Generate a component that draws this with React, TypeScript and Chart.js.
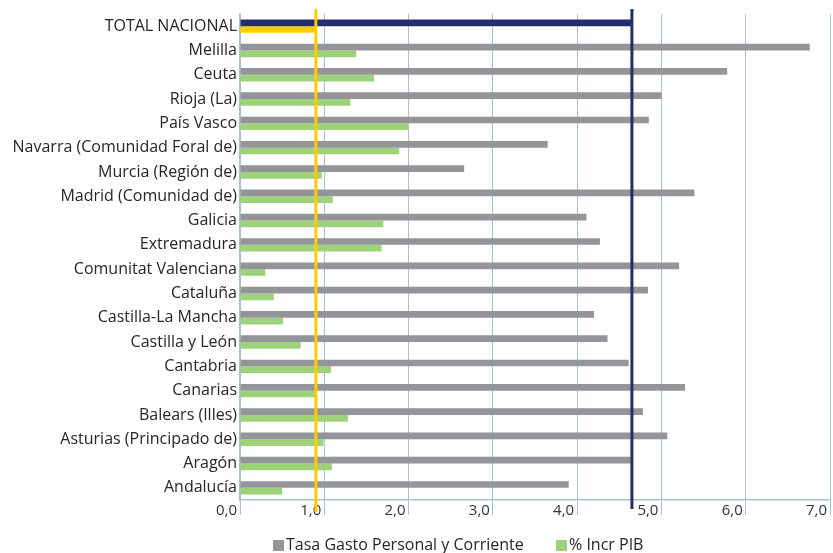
import React, { useEffect, useRef } from "react";
import { Chart, registerables } from "chart.js";

Chart.register(...registerables);

const categories = [
  "TOTAL NACIONAL",
  "Melilla",
  "Ceuta",
  "Rioja (La)",
  "País Vasco",
  "Navarra (Comunidad Foral de)",
  "Murcia (Región de)",
  "Madrid (Comunidad de)",
  "Galicia",
  "Extremadura",
  "Comunitat Valenciana",
  "Cataluña",
  "Castilla-La Mancha",
  "Castilla y León",
  "Cantabria",
  "Canarias",
  "Balears (Illes)",
  "Asturias (Principado de)",
  "Aragón",
  "Andalucía",
];

const tasaGasto = [
  4.65, 6.76, 5.78, 5.0, 4.85, 3.65, 2.66, 5.39, 4.11, 4.27, 5.21, 4.84, 4.2,
  4.36, 4.61, 5.28, 4.78, 5.07, 4.66, 3.9,
];

const incrPIB = [
  0.9, 1.38, 1.59, 1.31, 2.0, 1.89, 0.97, 1.1, 1.7, 1.68, 0.3, 0.4, 0.51, 0.72,
  1.08, 0.89, 1.28, 0.99, 1.09, 0.5,
];

const xTicks = [0, 1, 2, 3, 4, 5, 6, 7];
const seriesNames = ["Tasa Gasto Personal y Corriente", "% Incr PIB"];

const GRAY = "#939598";
const GREEN = "#9dd17a";
const NAVY = "#232e6b";
const YELLOW = "#ffcc00";
const GRID = "#a3c2d5";
const TEXT = "#262626";
const FONT = "'Open Sans', sans-serif";

const refLines = {
  id: "refLines",
  afterDatasetsDraw(chart: any) {
    const { ctx, chartArea, scales } = chart;
    const xs = scales.x;
    const lines = [
      { v: tasaGasto[0], c: NAVY, bottom: chartArea.bottom + 9 },
      { v: incrPIB[0], c: YELLOW, bottom: chartArea.bottom + 12 },
    ];
    ctx.save();
    for (const l of lines) {
      const x = xs.getPixelForValue(l.v);
      ctx.beginPath();
      ctx.strokeStyle = l.c;
      ctx.lineWidth = 3;
      ctx.moveTo(x, chartArea.top - 5);
      ctx.lineTo(x, l.bottom);
      ctx.stroke();
    }
    ctx.restore();
  },
};

const legendPlugin = {
  id: "customLegend",
  afterDraw(chart: any) {
    const { ctx } = chart;
    const items = [
      { text: seriesNames[0], color: GRAY, x: 273 },
      { text: seriesNames[1], color: GREEN, x: 556 },
    ];
    const cy = 545.5;
    ctx.save();
    ctx.font = `16px ${FONT}`;
    ctx.textBaseline = "middle";
    ctx.textAlign = "left";
    for (const it of items) {
      ctx.fillStyle = it.color;
      ctx.fillRect(it.x, cy - 5.5, 11, 11);
      ctx.fillStyle = TEXT;
      ctx.fillText(it.text, it.x + 13, cy);
    }
    ctx.restore();
  },
};

export default function App() {
  const ref = useRef<HTMLCanvasElement | null>(null);
  useEffect(() => {
    if (!ref.current) return;
    const chart = new Chart(ref.current, {
      type: "bar",
      data: {
        labels: categories,
        datasets: [
          {
            label: seriesNames[0],
            data: tasaGasto,
            backgroundColor: categories.map((_, i) => (i === 0 ? NAVY : GRAY)),
            categoryPercentage: 0.55,
            barPercentage: 1,
          },
          {
            label: seriesNames[1],
            data: incrPIB,
            backgroundColor: categories.map((_, i) => (i === 0 ? YELLOW : GREEN)),
            categoryPercentage: 0.55,
            barPercentage: 1,
          },
        ],
      },
      options: {
        indexAxis: "y",
        animation: false,
        responsive: false,
        devicePixelRatio: 1,
        layout: { padding: { top: 14, right: 3, left: 0, bottom: 29 } },
        scales: {
          x: {
            min: 0,
            max: 7,
            afterBuildTicks: (s: any) => {
              s.ticks = xTicks.map((v) => ({ value: v }));
            },
            afterFit: (s: any) => {
              s.height = 24;
            },
            grid: {
              color: GRID,
              lineWidth: 1,
              drawTicks: true,
              tickLength: 15,
              tickColor: GRID,
            },
            border: { color: GRID, width: 1.5 },
            ticks: {
              align: "end",
              padding: -13,
              labelOffset: -3,
              color: "#333",
              font: { family: FONT, size: 15 },
              callback: (v: any) => Number(v).toFixed(1).replace(".", ","),
            },
          },
          y: {
            afterFit: (s: any) => {
              s.width = 240;
            },
            grid: { display: false, drawTicks: false },
            border: { color: GRID, width: 1.5 },
            ticks: {
              padding: 3,
              color: TEXT,
              font: { family: FONT, size: 16 },
            },
          },
        },
        plugins: {
          tooltip: { enabled: false },
          legend: { display: false },
        },
      },
      plugins: [refLines, legendPlugin],
    });
    return () => chart.destroy();
  }, []);
  return (
    <div style={{ position: "absolute", left: 0, top: 0, width: 833, height: 553, background: "#fff" }}>
      <canvas ref={ref} width={833} height={553} />
    </div>
  );
}
